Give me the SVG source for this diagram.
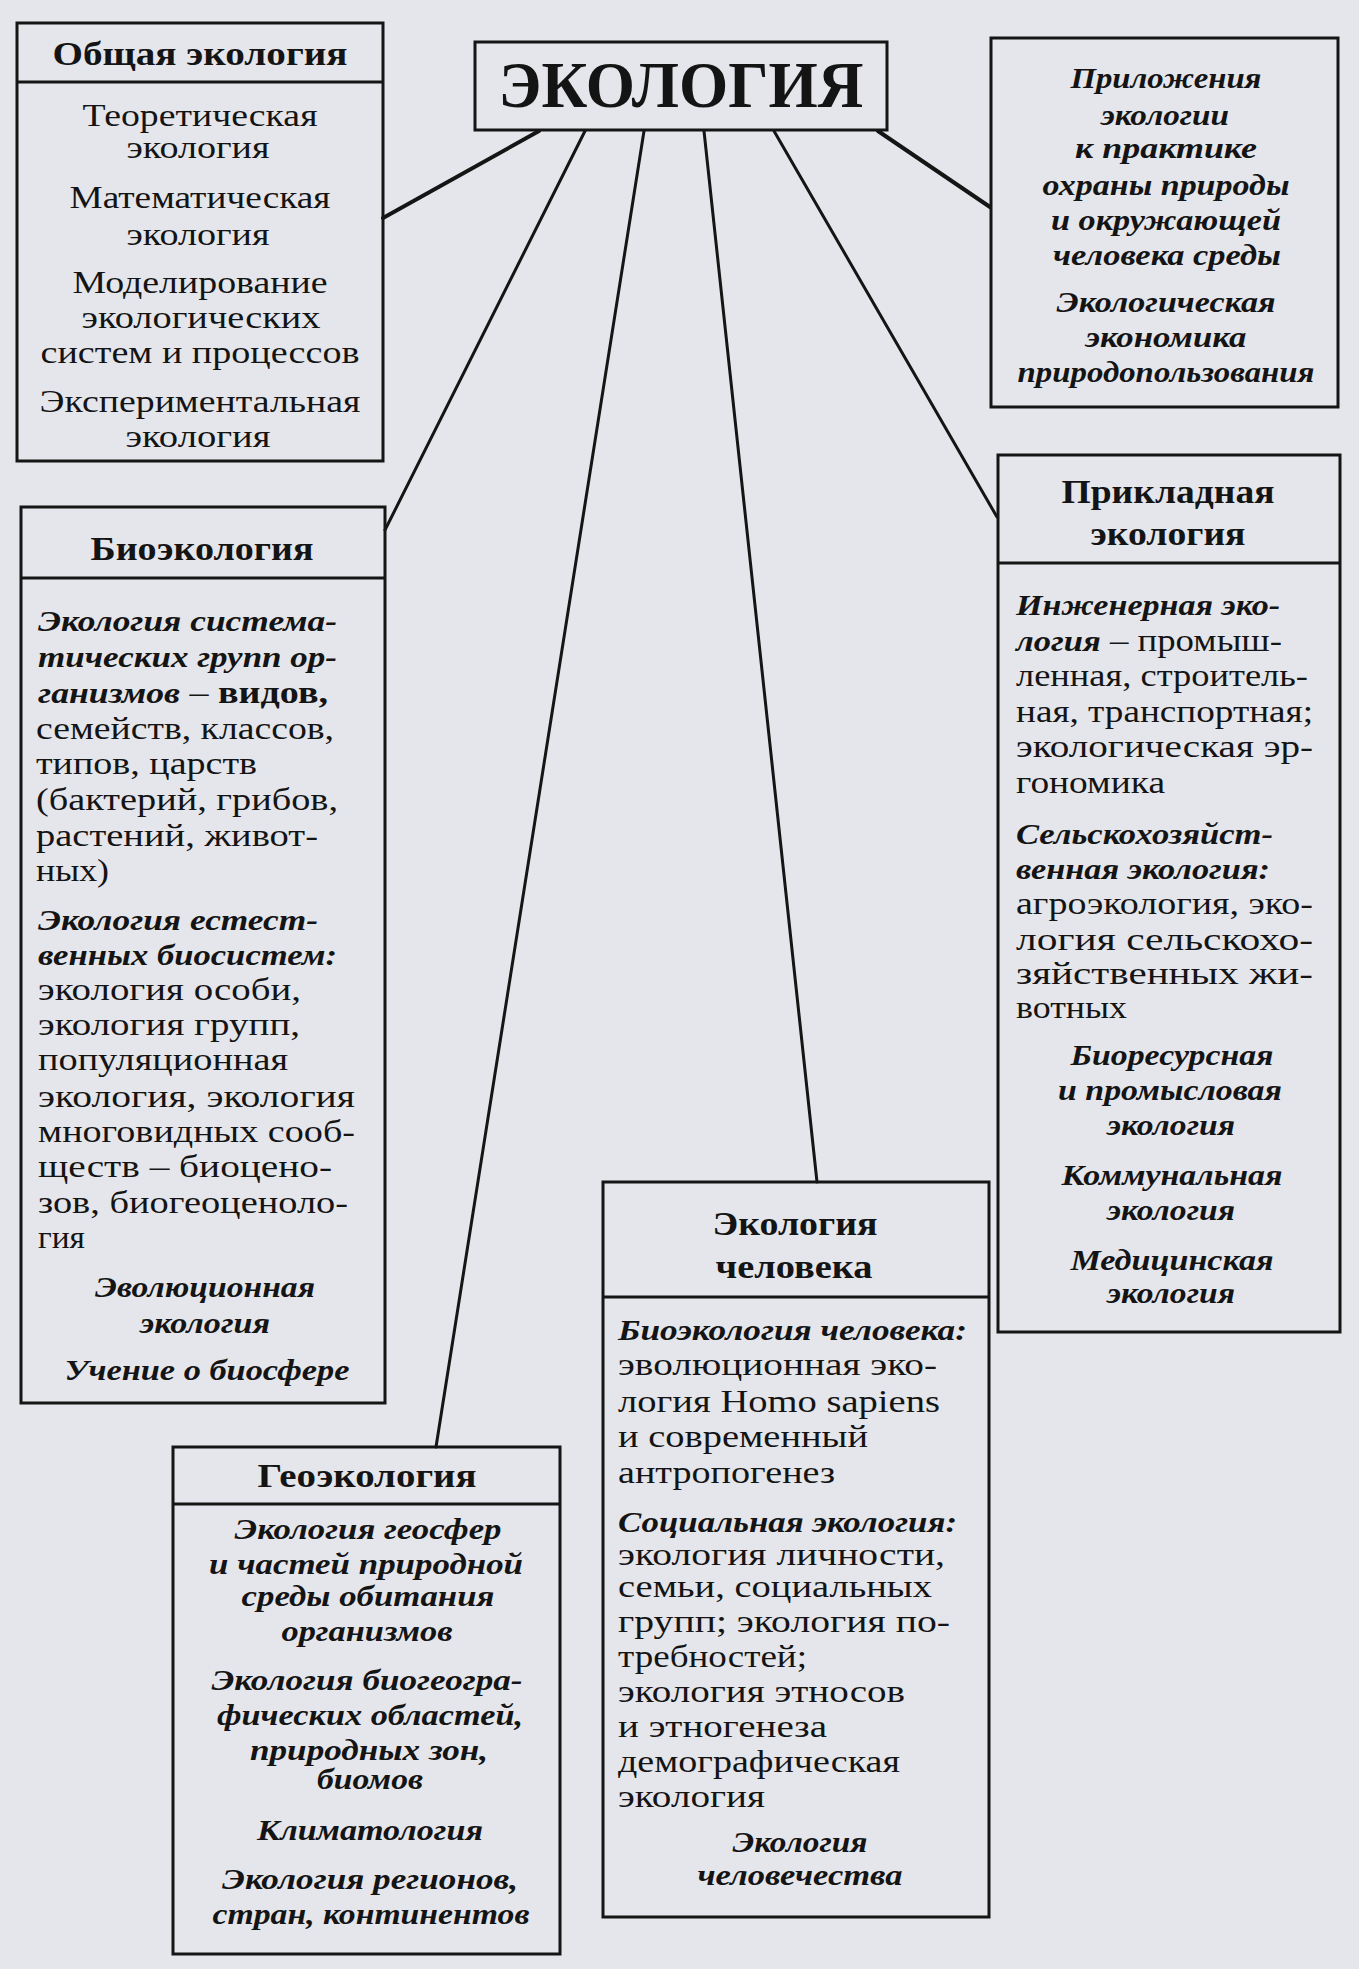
<svg xmlns="http://www.w3.org/2000/svg" width="1359" height="1969" viewBox="0 0 1359 1969">
<style>
text{font-family:"Liberation Serif","Times New Roman",serif;font-size:32px;fill:#141414}
.h{font-weight:bold;font-size:34px}
.t{font-weight:bold;font-size:65px}
.bi{font-style:italic;font-weight:bold;font-size:30px}
.b{font-weight:bold}
.c{text-anchor:middle}
.box{fill:none;stroke:#151515;stroke-width:3}
.ln{stroke:#151515;stroke-width:3;fill:none;stroke-linecap:round}
.lt{stroke-width:4}
</style>
<rect x="0" y="0" width="1359" height="1969" fill="#e5e6eb"/>
<g id="connectors">
<line class="ln lt" x1="539" y1="131" x2="383" y2="218"/>
<line class="ln" x1="585" y1="131" x2="385" y2="530"/>
<line class="ln" x1="644" y1="131" x2="436" y2="1447"/>
<line class="ln" x1="704" y1="131" x2="817" y2="1182"/>
<line class="ln" x1="774" y1="131" x2="997" y2="517"/>
<line class="ln lt" x1="878" y1="131" x2="990" y2="207"/>
</g>
<g id="title">
<rect class="box" x="475" y="42" width="412" height="88"/>
<text class="t c" x="681" y="107" textLength="365" lengthAdjust="spacingAndGlyphs">ЭКОЛОГИЯ</text>
</g>
<g id="general">
<rect class="box" x="17" y="23" width="366" height="438"/>
<line class="box" x1="17" y1="82" x2="383" y2="82"/>
<text class="h c" x="200" y="65" textLength="295" lengthAdjust="spacingAndGlyphs">Общая экология</text>
<text class="c" x="200" y="126" textLength="235" lengthAdjust="spacingAndGlyphs">Теоретическая</text>
<text class="c" x="198" y="158" textLength="143" lengthAdjust="spacingAndGlyphs">экология</text>
<text class="c" x="200" y="208" textLength="261" lengthAdjust="spacingAndGlyphs">Математическая</text>
<text class="c" x="198" y="245" textLength="143" lengthAdjust="spacingAndGlyphs">экология</text>
<text class="c" x="200" y="293" textLength="255" lengthAdjust="spacingAndGlyphs">Моделирование</text>
<text class="c" x="201" y="328" textLength="239" lengthAdjust="spacingAndGlyphs">экологических</text>
<text class="c" x="200" y="363" textLength="319" lengthAdjust="spacingAndGlyphs">систем и процессов</text>
<text class="c" x="200" y="412" textLength="321" lengthAdjust="spacingAndGlyphs">Экспериментальная</text>
<text class="c" x="198" y="447" textLength="145" lengthAdjust="spacingAndGlyphs">экология</text>
</g>
<g id="applications">
<rect class="box" x="991" y="38" width="347" height="369"/>
<text class="bi c" x="1166" y="88" textLength="191" lengthAdjust="spacingAndGlyphs">Приложения</text>
<text class="bi c" x="1165" y="125" textLength="128" lengthAdjust="spacingAndGlyphs">экологии</text>
<text class="bi c" x="1166" y="158" textLength="182" lengthAdjust="spacingAndGlyphs">к практике</text>
<text class="bi c" x="1166" y="195" textLength="247" lengthAdjust="spacingAndGlyphs">охраны природы</text>
<text class="bi c" x="1166" y="230" textLength="230" lengthAdjust="spacingAndGlyphs">и окружающей</text>
<text class="bi c" x="1167" y="265" textLength="228" lengthAdjust="spacingAndGlyphs">человека среды</text>
<text class="bi c" x="1166" y="312" textLength="219" lengthAdjust="spacingAndGlyphs">Экологическая</text>
<text class="bi c" x="1166" y="347" textLength="161" lengthAdjust="spacingAndGlyphs">экономика</text>
<text class="bi c" x="1166" y="382" textLength="297" lengthAdjust="spacingAndGlyphs">природопользования</text>
</g>
<g id="bioecology">
<rect class="box" x="21" y="507" width="364" height="896"/>
<line class="box" x1="21" y1="578" x2="385" y2="578"/>
<text class="h c" x="202" y="560" textLength="223" lengthAdjust="spacingAndGlyphs">Биоэкология</text>
<text class="bi" x="38" y="631" textLength="299" lengthAdjust="spacingAndGlyphs">Экология система-</text>
<text class="bi" x="38" y="667" textLength="299" lengthAdjust="spacingAndGlyphs">тических групп ор-</text>
<text x="38" y="703" textLength="290" lengthAdjust="spacingAndGlyphs"><tspan class="bi">ганизмов</tspan> – <tspan class="b">видов,</tspan></text>
<text x="36" y="739" textLength="298" lengthAdjust="spacingAndGlyphs">семейств, классов,</text>
<text x="36" y="774" textLength="221" lengthAdjust="spacingAndGlyphs">типов, царств</text>
<text x="36" y="810" textLength="302" lengthAdjust="spacingAndGlyphs">(бактерий, грибов,</text>
<text x="36" y="846" textLength="282" lengthAdjust="spacingAndGlyphs">растений, живот-</text>
<text x="36" y="881" textLength="73" lengthAdjust="spacingAndGlyphs">ных)</text>
<text class="bi" x="38" y="930" textLength="280" lengthAdjust="spacingAndGlyphs">Экология естест-</text>
<text class="bi" x="38" y="965" textLength="299" lengthAdjust="spacingAndGlyphs">венных биосистем:</text>
<text x="38" y="1000" textLength="263" lengthAdjust="spacingAndGlyphs">экология особи,</text>
<text x="38" y="1035" textLength="262" lengthAdjust="spacingAndGlyphs">экология групп,</text>
<text x="38" y="1070" textLength="250" lengthAdjust="spacingAndGlyphs">популяционная</text>
<text x="38" y="1107" textLength="317" lengthAdjust="spacingAndGlyphs">экология, экология</text>
<text x="38" y="1142" textLength="317" lengthAdjust="spacingAndGlyphs">многовидных сооб-</text>
<text x="38" y="1177" textLength="294" lengthAdjust="spacingAndGlyphs">ществ – биоцено-</text>
<text x="38" y="1213" textLength="310" lengthAdjust="spacingAndGlyphs">зов, биогеоценоло-</text>
<text x="38" y="1248" textLength="47" lengthAdjust="spacingAndGlyphs">гия</text>
<text class="bi c" x="205" y="1297" textLength="220" lengthAdjust="spacingAndGlyphs">Эволюционная</text>
<text class="bi c" x="205" y="1333" textLength="130" lengthAdjust="spacingAndGlyphs">экология</text>
<text class="bi c" x="207" y="1380" textLength="285" lengthAdjust="spacingAndGlyphs">Учение о биосфере</text>
</g>
<g id="geoecology">
<rect class="box" x="173" y="1447" width="387" height="507"/>
<line class="box" x1="173" y1="1504" x2="560" y2="1504"/>
<text class="h c" x="367" y="1487" textLength="219" lengthAdjust="spacingAndGlyphs">Геоэкология</text>
<text class="bi c" x="368" y="1539" textLength="267" lengthAdjust="spacingAndGlyphs">Экология геосфер</text>
<text class="bi c" x="366" y="1574" textLength="314" lengthAdjust="spacingAndGlyphs">и частей природной</text>
<text class="bi c" x="368" y="1606" textLength="253" lengthAdjust="spacingAndGlyphs">среды обитания</text>
<text class="bi c" x="367" y="1641" textLength="171" lengthAdjust="spacingAndGlyphs">организмов</text>
<text class="bi c" x="367" y="1690" textLength="311" lengthAdjust="spacingAndGlyphs">Экология биогеогра-</text>
<text class="bi c" x="370" y="1725" textLength="306" lengthAdjust="spacingAndGlyphs">фических областей,</text>
<text class="bi c" x="369" y="1760" textLength="238" lengthAdjust="spacingAndGlyphs">природных зон,</text>
<text class="bi c" x="370" y="1789" textLength="106" lengthAdjust="spacingAndGlyphs">биомов</text>
<text class="bi c" x="370" y="1840" textLength="226" lengthAdjust="spacingAndGlyphs">Климатология</text>
<text class="bi c" x="370" y="1889" textLength="296" lengthAdjust="spacingAndGlyphs">Экология регионов,</text>
<text class="bi c" x="371" y="1924" textLength="317" lengthAdjust="spacingAndGlyphs">стран, континентов</text>
</g>
<g id="human">
<rect class="box" x="603" y="1182" width="386" height="735"/>
<line class="box" x1="603" y1="1297" x2="989" y2="1297"/>
<text class="h c" x="795" y="1235" textLength="165" lengthAdjust="spacingAndGlyphs">Экология</text>
<text class="h c" x="794" y="1278" textLength="157" lengthAdjust="spacingAndGlyphs">человека</text>
<text class="bi" x="618" y="1340" textLength="349" lengthAdjust="spacingAndGlyphs">Биоэкология человека:</text>
<text x="618" y="1375" textLength="319" lengthAdjust="spacingAndGlyphs">эволюционная эко-</text>
<text x="618" y="1412" textLength="322" lengthAdjust="spacingAndGlyphs">логия Homo sapiens</text>
<text x="618" y="1447" textLength="250" lengthAdjust="spacingAndGlyphs">и современный</text>
<text x="618" y="1483" textLength="217" lengthAdjust="spacingAndGlyphs">антропогенез</text>
<text class="bi" x="618" y="1532" textLength="339" lengthAdjust="spacingAndGlyphs">Социальная экология:</text>
<text x="618" y="1565" textLength="327" lengthAdjust="spacingAndGlyphs">экология личности,</text>
<text x="618" y="1597" textLength="314" lengthAdjust="spacingAndGlyphs">семьи, социальных</text>
<text x="618" y="1632" textLength="332" lengthAdjust="spacingAndGlyphs">групп; экология по-</text>
<text x="618" y="1667" textLength="189" lengthAdjust="spacingAndGlyphs">требностей;</text>
<text x="618" y="1702" textLength="287" lengthAdjust="spacingAndGlyphs">экология этносов</text>
<text x="618" y="1737" textLength="209" lengthAdjust="spacingAndGlyphs">и этногенеза</text>
<text x="618" y="1772" textLength="282" lengthAdjust="spacingAndGlyphs">демографическая</text>
<text x="618" y="1807" textLength="147" lengthAdjust="spacingAndGlyphs">экология</text>
<text class="bi c" x="800" y="1852" textLength="135" lengthAdjust="spacingAndGlyphs">Экология</text>
<text class="bi c" x="800" y="1885" textLength="205" lengthAdjust="spacingAndGlyphs">человечества</text>
</g>
<g id="applied">
<rect class="box" x="998" y="455" width="342" height="877"/>
<line class="box" x1="998" y1="563" x2="1340" y2="563"/>
<text class="h c" x="1168" y="503" textLength="213" lengthAdjust="spacingAndGlyphs">Прикладная</text>
<text class="h c" x="1168" y="545" textLength="155" lengthAdjust="spacingAndGlyphs">экология</text>
<text class="bi" x="1016" y="615" textLength="264" lengthAdjust="spacingAndGlyphs">Инженерная эко-</text>
<text x="1016" y="651" textLength="266" lengthAdjust="spacingAndGlyphs"><tspan class="bi">логия</tspan> – промыш-</text>
<text x="1016" y="686" textLength="292" lengthAdjust="spacingAndGlyphs">ленная, строитель-</text>
<text x="1016" y="722" textLength="297" lengthAdjust="spacingAndGlyphs">ная, транспортная;</text>
<text x="1016" y="757" textLength="297" lengthAdjust="spacingAndGlyphs">экологическая эр-</text>
<text x="1016" y="793" textLength="149" lengthAdjust="spacingAndGlyphs">гономика</text>
<text class="bi" x="1016" y="844" textLength="257" lengthAdjust="spacingAndGlyphs">Сельскохозяйст-</text>
<text class="bi" x="1016" y="879" textLength="254" lengthAdjust="spacingAndGlyphs">венная экология:</text>
<text x="1016" y="914" textLength="297" lengthAdjust="spacingAndGlyphs">агроэкология, эко-</text>
<text x="1016" y="950" textLength="297" lengthAdjust="spacingAndGlyphs">логия сельскохо-</text>
<text x="1016" y="984" textLength="297" lengthAdjust="spacingAndGlyphs">зяйственных жи-</text>
<text x="1016" y="1018" textLength="111" lengthAdjust="spacingAndGlyphs">вотных</text>
<text class="bi c" x="1172" y="1065" textLength="203" lengthAdjust="spacingAndGlyphs">Биоресурсная</text>
<text class="bi c" x="1170" y="1100" textLength="224" lengthAdjust="spacingAndGlyphs">и промысловая</text>
<text class="bi c" x="1171" y="1135" textLength="128" lengthAdjust="spacingAndGlyphs">экология</text>
<text class="bi c" x="1172" y="1185" textLength="221" lengthAdjust="spacingAndGlyphs">Коммунальная</text>
<text class="bi c" x="1171" y="1220" textLength="128" lengthAdjust="spacingAndGlyphs">экология</text>
<text class="bi c" x="1172" y="1270" textLength="203" lengthAdjust="spacingAndGlyphs">Медицинская</text>
<text class="bi c" x="1171" y="1303" textLength="128" lengthAdjust="spacingAndGlyphs">экология</text>
</g>
</svg>
